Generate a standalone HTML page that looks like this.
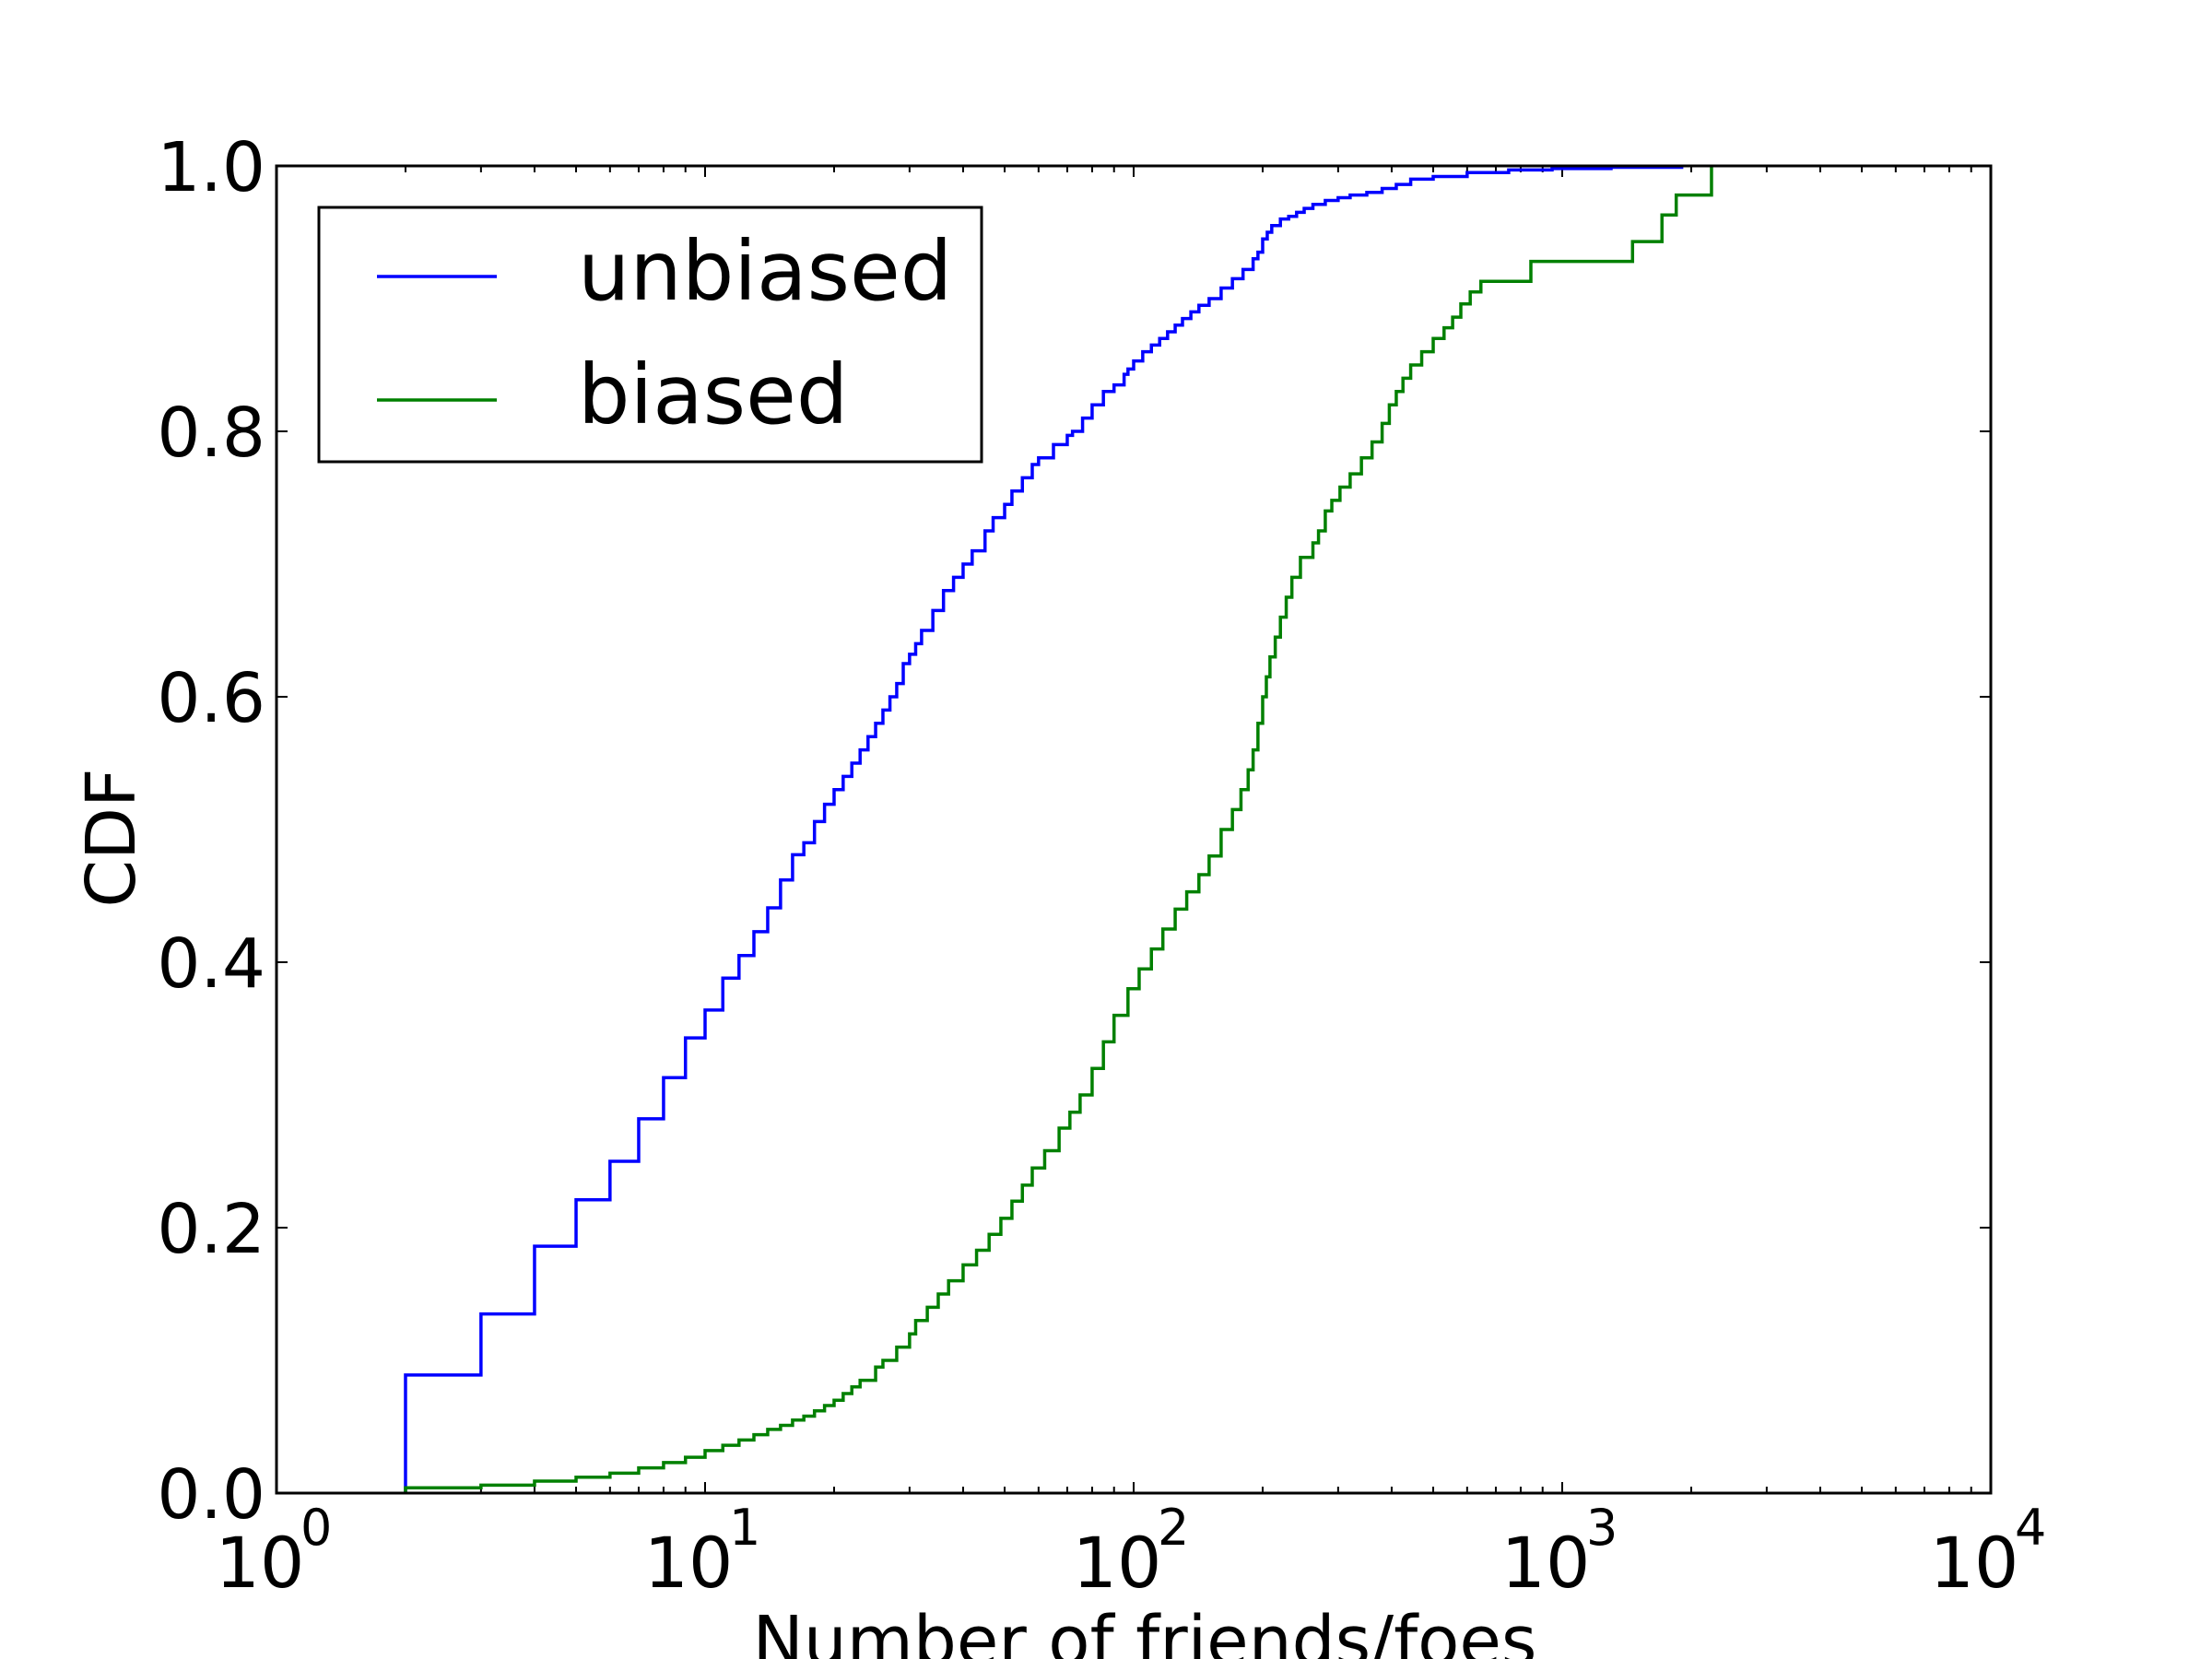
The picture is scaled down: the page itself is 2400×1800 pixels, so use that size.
<!DOCTYPE html>
<html><head><meta charset="utf-8"><style>
html,body{margin:0;padding:0;background:#fff;}
svg{display:block;font-family:"DejaVu Sans","Liberation Sans",sans-serif;}
</style></head><body>
<svg id="chart" width="2400" height="1800" viewBox="0 0 2400 1800" xmlns="http://www.w3.org/2000/svg">
<rect width="2400" height="1800" fill="#fff"/>
<g id="ticks"></g>
<g id="series"></g>
<rect x="300" y="180" width="1860" height="1440" fill="none" stroke="#000" stroke-width="3"/>
<g id="labels"></g>
<text transform="translate(146,909) rotate(-90)" text-anchor="middle" font-size="74">CDF</text>
<text x="1242" y="1806" text-anchor="middle" font-size="74">Number of friends/foes</text>
<g>
<rect x="346" y="225" width="719" height="276" fill="#fff" stroke="#000" stroke-width="3"/>
<line x1="409" y1="300" x2="539" y2="300" stroke="#0000ff" stroke-width="3.5"/>
<text x="627" y="325" font-size="89">unbiased</text>
<line x1="409" y1="434" x2="539" y2="434" stroke="#008000" stroke-width="3.5"/>
<text x="627" y="459" font-size="89">biased</text>
</g>
</svg>
<script>
const unbiasedX=[2,3,4,5,6,7,8,9,10,11,12,13,14,15,16,17,18,19,20,21,22,23,24,25,26,27,28,29,30,31,32,34,36,38,40,42,45,47,50,52,55,58,60,65,70,72,76,80,85,90,95,97,100,105,110,115,120,125,130,136,142,150,160,170,180,190,195,200,205,210,220,230,240,250,262,280,300,320,350,380,410,443,500,600,750,947,1300,1900];
const unbiasedY=[0.089,0.135,0.186,0.221,0.25,0.282,0.313,0.343,0.364,0.388,0.405,0.423,0.441,0.462,0.481,0.49,0.506,0.519,0.53,0.54,0.55,0.56,0.57,0.58,0.59,0.60,0.61,0.625,0.632,0.64,0.65,0.665,0.68,0.69,0.70,0.71,0.725,0.735,0.745,0.755,0.765,0.775,0.78,0.79,0.797,0.80,0.81,0.82,0.83,0.835,0.843,0.847,0.853,0.86,0.865,0.87,0.875,0.88,0.885,0.89,0.895,0.90,0.908,0.915,0.922,0.93,0.935,0.945,0.95,0.955,0.96,0.962,0.965,0.968,0.971,0.974,0.976,0.978,0.98,0.983,0.986,0.99,0.992,0.995,0.997,0.998,0.999,1.0];
const biasedX=[2,3,4,5,6,7,8,9,10,11,12,13,14,15,16,17,18,19,20,21,22,23,25,26,28,30,31,33,35,37,40,43,46,49,52,55,58,62,67,71,75,80,85,90,97,103,110,117,125,133,142,150,160,170,178,185,190,195,200,204,208,214,220,227,234,245,262,270,280,290,303,320,340,360,380,395,410,425,443,470,500,530,555,580,610,646,700,845,1459,1709,1845,2230];
const biasedY=[0.004,0.006,0.009,0.012,0.015,0.019,0.023,0.027,0.032,0.036,0.04,0.044,0.048,0.051,0.055,0.058,0.062,0.066,0.07,0.075,0.08,0.085,0.095,0.10,0.11,0.12,0.13,0.14,0.15,0.16,0.172,0.183,0.195,0.207,0.22,0.232,0.245,0.258,0.275,0.287,0.3,0.32,0.34,0.36,0.38,0.395,0.41,0.425,0.44,0.453,0.466,0.48,0.5,0.515,0.53,0.545,0.56,0.58,0.6,0.615,0.63,0.645,0.66,0.675,0.69,0.705,0.716,0.725,0.74,0.748,0.758,0.768,0.78,0.792,0.806,0.82,0.83,0.84,0.85,0.86,0.87,0.878,0.886,0.896,0.905,0.913,0.913,0.928,0.943,0.963,0.978,1.0];
const yTicks=[0,0.2,0.4,0.6,0.8,1.0];
const yTickLabels=["0.0","0.2","0.4","0.6","0.8","1.0"];
const xDecades=[0,1,2,3,4];

const L=300,R=2160,T=180,B=1620;
const xs=v=>L+(Math.log10(v)-0)/4*(R-L);
const ys=v=>B-v*(B-T);
const NS="http://www.w3.org/2000/svg";
function mk(tag,attrs,parent){const e=document.createElementNS(NS,tag);for(const k in attrs)e.setAttribute(k,attrs[k]);parent.appendChild(e);return e;}

const series=document.getElementById('series');
function step(X,Y,color,name){
  let d=`M${xs(X[0])},${ys(0)}`;
  for(let i=0;i<X.length;i++){
    d+=` L${xs(X[i])},${ys(Y[i])}`;
    if(i+1<X.length) d+=` L${xs(X[i+1])},${ys(Y[i])}`;
  }
  const p=mk('path',{d:d,fill:'none',stroke:color,'stroke-width':3.5,'stroke-linejoin':'miter'},series);
  
  
}
step(unbiasedX,unbiasedY,'#0000ff','unbiased-line');
step(biasedX,biasedY,'#008000','biased-line');

const ticks=document.getElementById('ticks');
const labels=document.getElementById('labels');
yTicks.forEach((v,i)=>{
  const y=ys(v);
  const a=mk('line',{x1:L,y1:y,x2:L+12,y2:y,stroke:'#000','stroke-width':2},ticks);
  
  
  const b=mk('line',{x1:R,y1:y,x2:R-12,y2:y,stroke:'#000','stroke-width':2},ticks);
  
  
  const t=mk('text',{x:288,y:y+27,'text-anchor':'end','font-size':74},labels);
  t.textContent=yTickLabels[i];
  
  
});
xDecades.forEach((d,i)=>{
  const x=xs(Math.pow(10,d));
  [[B,B-12],[T,T+12]].forEach(([a,b])=>{
    const l=mk('line',{x1:x,y1:a,x2:x,y2:b,stroke:'#000','stroke-width':2},ticks);
    
    
  });
  if(i<xDecades.length-1){
    for(let m=2;m<=9;m++){
      const xm=xs(m*Math.pow(10,d));
      [[B,B-7],[T,T+7]].forEach(([a,b])=>{
        const l=mk('line',{x1:xm,y1:a,x2:xm,y2:b,stroke:'#000','stroke-width':2},ticks);
        
        
      });
    }
  }
  const t=mk('text',{x:x-18,y:1722,'text-anchor':'middle','font-size':76},labels);
  t.textContent='10';
  
  
  const s=mk('text',{x:x+26,y:1676,'font-size':54},labels);
  s.textContent=String(d);
  
  
});
</script>
</body></html>
